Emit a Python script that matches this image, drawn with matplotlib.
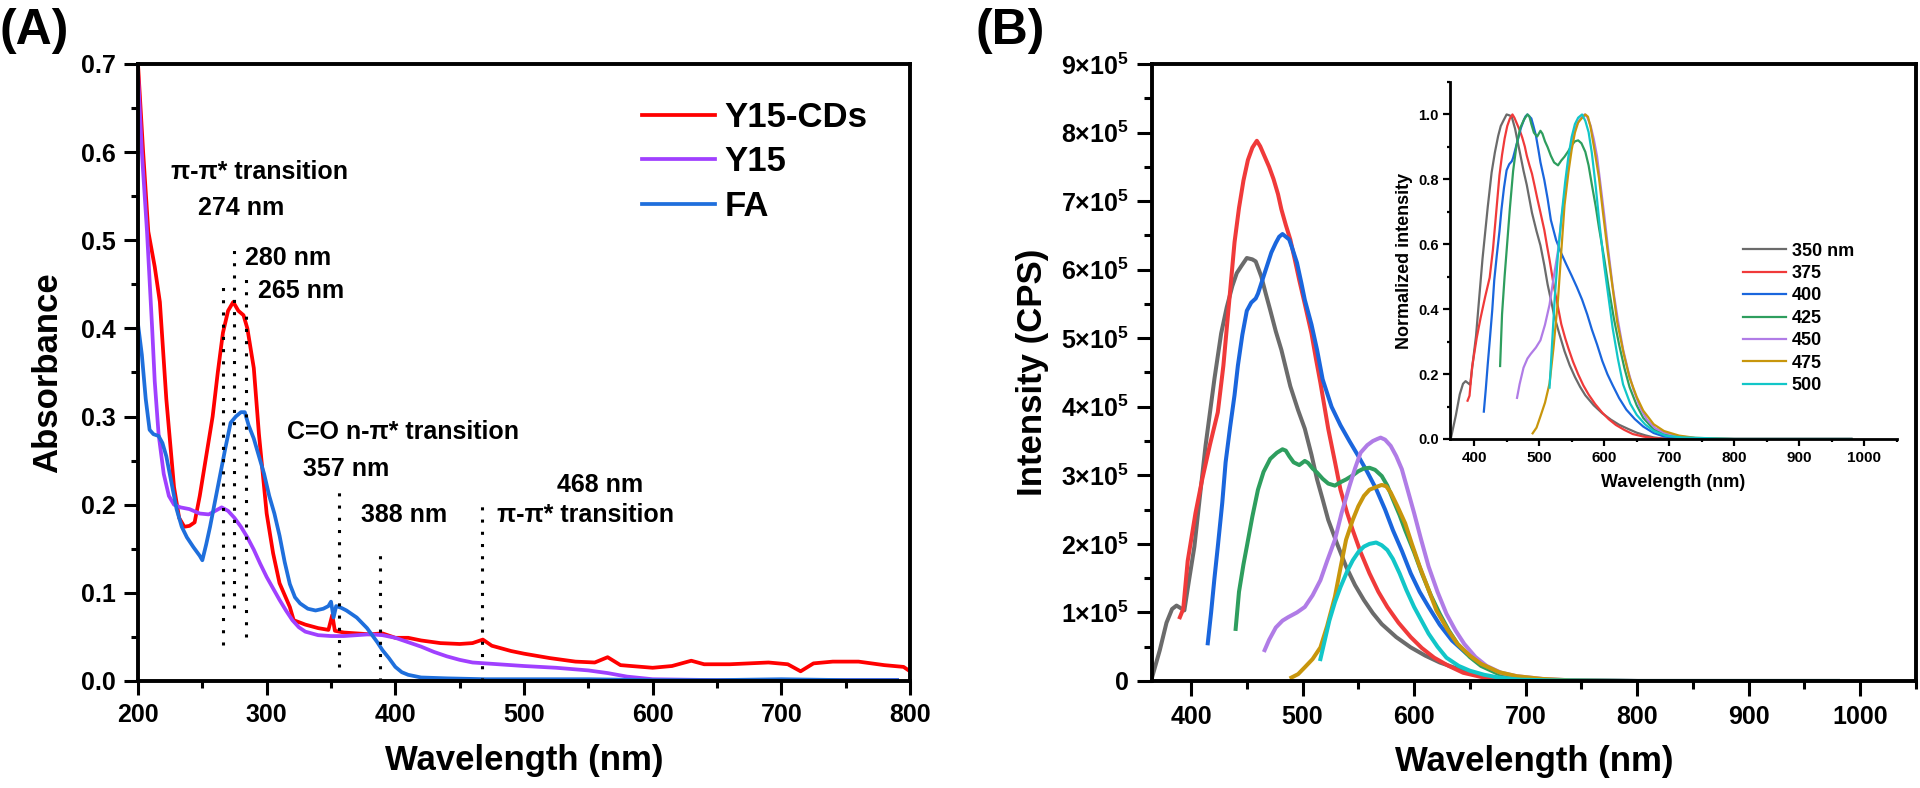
import matplotlib
matplotlib.use("Agg")
import matplotlib.pyplot as plt
import numpy as np
from matplotlib.ticker import MultipleLocator, FuncFormatter

plt.rcParams['font.family'] = ['Liberation Sans', 'DejaVu Sans']
plt.rcParams['font.weight'] = 'bold'
plt.rcParams['axes.labelweight'] = 'bold'
plt.rcParams['mathtext.fontset'] = 'custom'
plt.rcParams['mathtext.rm'] = 'Liberation Sans:bold'
plt.rcParams['mathtext.bf'] = 'Liberation Sans:bold'
plt.rcParams['mathtext.it'] = 'Liberation Sans:bold'

# ---- panel A: UV-vis absorbance ----
cds_wl = [200, 204, 208, 213, 217, 222, 228, 232, 236, 240, 244, 248, 253, 258, 262, 266, 270, 274, 278, 282,
          285, 290, 294, 300, 305, 310, 318, 321, 330, 340, 348, 351, 353, 360, 370, 380, 390, 400, 410, 420,
          435, 450, 460, 468, 475, 490, 500, 520, 540, 555, 565, 575, 600, 615, 630, 640, 660, 690, 705, 715,
          725, 740, 760, 780, 795, 800]
cds_abs = [0.70, 0.60, 0.51, 0.47, 0.43, 0.32, 0.22, 0.185, 0.175, 0.176, 0.18, 0.21, 0.255, 0.30, 0.35, 0.395, 0.42, 0.43, 0.42, 0.415,
           0.40, 0.355, 0.28, 0.19, 0.145, 0.111, 0.084, 0.069, 0.064, 0.060, 0.058, 0.075, 0.057, 0.055, 0.054, 0.053, 0.054, 0.049, 0.049, 0.046,
           0.043, 0.042, 0.043, 0.047, 0.040, 0.034, 0.031, 0.026, 0.022, 0.021, 0.027, 0.018, 0.015, 0.017, 0.023, 0.019, 0.019, 0.021, 0.019, 0.011,
           0.020, 0.022, 0.022, 0.018, 0.016, 0.011]

y15_wl = [200, 203, 207, 211, 213, 216, 220, 224, 228, 233, 240, 248, 255, 260, 265, 270, 275, 280, 285, 290,
          295, 300, 305, 310, 315, 320, 325, 330, 340, 350, 360, 370, 380, 390, 400, 410, 420, 430, 440, 450,
          460, 480, 500, 525, 550, 565, 580, 600, 650, 700, 790]
y15_abs = [0.69, 0.60, 0.51, 0.40, 0.34, 0.28, 0.235, 0.21, 0.20, 0.197, 0.195, 0.19, 0.189, 0.193, 0.197, 0.193, 0.185, 0.175, 0.163, 0.149,
           0.133, 0.118, 0.105, 0.092, 0.08, 0.069, 0.061, 0.056, 0.052, 0.051, 0.051, 0.052, 0.053, 0.052, 0.049, 0.044, 0.039, 0.033, 0.028, 0.024,
           0.021, 0.019, 0.017, 0.015, 0.012, 0.009, 0.005, 0.002, 0.001, 0.001, 0.001]

fa_wl = [200, 203, 206, 209, 212, 216, 219, 222, 226, 230, 234, 238, 243, 248, 250, 253, 256, 260, 264, 268,
         272, 276, 280, 283, 286, 290, 294, 298, 302, 306, 310, 314, 318, 322, 326, 332, 338, 344, 348, 350,
         352, 354, 358, 362, 366, 370, 374, 378, 382, 386, 390, 395, 400, 405, 410, 420, 440, 470, 500, 550,
         600, 650, 700, 750, 790]
fa_abs = [0.405, 0.37, 0.32, 0.285, 0.28, 0.278, 0.27, 0.255, 0.225, 0.195, 0.175, 0.163, 0.152, 0.142, 0.137, 0.155, 0.175, 0.205, 0.235, 0.265,
          0.293, 0.30, 0.305, 0.305, 0.29, 0.275, 0.255, 0.235, 0.21, 0.19, 0.165, 0.135, 0.11, 0.095, 0.088, 0.082, 0.08, 0.082, 0.085, 0.09,
          0.072, 0.085, 0.083, 0.08, 0.076, 0.072, 0.066, 0.06, 0.052, 0.044, 0.035, 0.026, 0.016, 0.01, 0.007, 0.004, 0.003, 0.002, 0.002, 0.002,
          0.001, 0.001, 0.002, 0.001, 0.001]

# dotted markers: (wavelength, bottom, top)
marks = [(266, 0.041, 0.45), (275, 0.083, 0.49), (284, 0.05, 0.458),
         (356, 0.016, 0.214), (388, 0.0, 0.152), (467, 0.0, 0.198)]
notes = [("π-π* transition", 226, 0.577), ("274 nm", 247, 0.537), ("280 nm", 283, 0.48),
         ("265 nm", 293, 0.442), ("C=O n-π* transition", 316, 0.282), ("357 nm", 328, 0.24),
         ("388 nm", 373, 0.188), ("468 nm", 526, 0.222), ("π-π* transition", 479, 0.188)]

# ---- panel B: PL spectra (intensity in 1e5 CPS) ----
ex_labels = ["350 nm", "375", "400", "425", "450", "475", "500"]
ex_colors = ["#6b6b6b", "#f03a3a", "#1a66dd", "#2e9e5e", "#b07ce6", "#c8960c", "#12c6c8"]

pl_wl = [
    [365, 372, 378, 383, 387, 390, 394, 398, 403, 408, 413, 421, 427, 432, 437, 441, 445, 450, 455, 458,
     463, 467, 471, 476, 481, 489, 496, 502, 508, 513, 518, 523, 531, 539, 547, 555, 563, 571, 584, 597,
     610, 623, 637, 650, 663, 676, 690, 720, 800, 900, 980],
    [390, 393, 397, 404, 410, 417, 424, 429, 434, 439, 443, 447, 451, 455, 459, 462, 466, 470, 474, 478,
     481, 485, 489, 493, 497, 502, 508, 512, 516, 523, 529, 534, 540, 545, 552, 560, 568, 576, 586, 597,
     607, 618, 631, 644, 660, 676, 700, 800, 900, 980],
    [415, 418, 421, 424, 428, 431, 435, 439, 442, 446, 450, 454, 458, 460, 463, 468, 472, 476, 479, 482,
     485, 488, 491, 495, 499, 502, 508, 513, 518, 526, 534, 542, 550, 558, 566, 574, 581, 589, 597, 605,
     613, 623, 634, 647, 660, 676, 692, 720, 800, 900, 980],
    [440, 443, 447, 450, 455, 460, 465, 471, 477, 482, 485, 488, 492, 497, 502, 505, 509, 513, 518, 523,
     529, 534, 539, 545, 550, 555, 560, 565, 571, 576, 581, 587, 592, 600, 607, 615, 623, 631, 639, 650,
     660, 676, 692, 730, 800, 900, 980],
    [466, 470, 476, 482, 487, 495, 502, 509, 516, 522, 529, 535, 542, 547, 552, 558, 563, 567, 570, 574,
     579, 584, 589, 594, 600, 606, 613, 621, 629, 637, 645, 655, 665, 678, 692, 715, 740, 800, 900, 980],
    [490, 496, 502, 509, 516, 522, 529, 534, 539, 545, 550, 555, 560, 566, 571, 575, 579, 585, 592, 598,
     605, 613, 620, 630, 639, 650, 660, 676, 692, 715, 740, 800, 900, 980],
    [516, 520, 524, 529, 534, 540, 545, 550, 555, 560, 566, 571, 576, 581, 587, 593, 600, 607, 613, 621,
     629, 640, 650, 663, 676, 695, 720, 800, 900, 980],
]
pl_int = [
    [0.05, 0.45, 0.85, 1.05, 1.1, 1.07, 1.03, 1.45, 1.96, 2.7, 3.43, 4.41, 5.07, 5.45, 5.76, 5.95, 6.05, 6.17, 6.15, 6.12,
     5.9, 5.65, 5.41, 5.1, 4.83, 4.3, 3.95, 3.68, 3.3, 2.94, 2.65, 2.35, 2.0, 1.67, 1.4, 1.18, 0.99, 0.83, 0.64, 0.49,
     0.37, 0.27, 0.19, 0.12, 0.07, 0.03, 0.01, 0.0, 0.0, 0.0, 0.0],
    [0.93, 1.05, 1.75, 2.45, 2.94, 3.45, 3.92, 4.6, 5.5, 6.4, 6.9, 7.3, 7.6, 7.78, 7.88, 7.8, 7.65, 7.5, 7.32, 7.1,
     6.88, 6.65, 6.44, 6.15, 5.85, 5.5, 5.07, 4.7, 4.35, 3.68, 3.2, 2.79, 2.45, 2.2, 1.88, 1.57, 1.3, 1.08, 0.85, 0.64,
     0.48, 0.34, 0.22, 0.12, 0.06, 0.02, 0.0, 0.0, 0.0, 0.0],
    [0.55, 1.0, 1.5, 1.96, 2.6, 3.19, 3.7, 4.17, 4.6, 5.05, 5.4, 5.52, 5.58, 5.65, 5.8, 6.05, 6.25, 6.39, 6.48, 6.52,
     6.48, 6.44, 6.3, 6.1, 5.8, 5.56, 5.2, 4.83, 4.4, 4.0, 3.73, 3.5, 3.28, 3.05, 2.8, 2.5, 2.2, 1.9, 1.57, 1.3,
     1.08, 0.82, 0.59, 0.4, 0.25, 0.12, 0.05, 0.01, 0.0, 0.0, 0.0],
    [0.76, 1.3, 1.7, 1.96, 2.4, 2.79, 3.05, 3.24, 3.33, 3.38, 3.36, 3.28, 3.19, 3.15, 3.21, 3.18, 3.1, 3.04, 2.95, 2.88,
     2.85, 2.9, 2.94, 3.0, 3.06, 3.1, 3.11, 3.08, 2.99, 2.85, 2.65, 2.42, 2.2, 1.88, 1.57, 1.25, 0.98, 0.74, 0.54, 0.35,
     0.22, 0.1, 0.05, 0.0, 0.0, 0.0, 0.0],
    [0.45, 0.6, 0.78, 0.88, 0.93, 1.0, 1.08, 1.25, 1.47, 1.75, 2.06, 2.45, 2.84, 3.1, 3.33, 3.44, 3.5, 3.53, 3.55, 3.52,
     3.43, 3.28, 3.09, 2.8, 2.45, 2.08, 1.67, 1.3, 0.98, 0.74, 0.54, 0.35, 0.22, 0.12, 0.07, 0.03, 0.01, 0.0, 0.0, 0.0],
    [0.05, 0.1, 0.2, 0.32, 0.49, 0.8, 1.23, 1.65, 2.06, 2.35, 2.55, 2.7, 2.79, 2.83, 2.86, 2.84, 2.75, 2.55, 2.3, 2.0,
     1.67, 1.33, 1.03, 0.75, 0.54, 0.37, 0.25, 0.13, 0.07, 0.03, 0.01, 0.0, 0.0, 0.0],
    [0.32, 0.6, 0.88, 1.15, 1.37, 1.6, 1.76, 1.88, 1.96, 2.0, 2.02, 1.98, 1.91, 1.78, 1.57, 1.33, 1.08, 0.87, 0.69, 0.5,
     0.34, 0.22, 0.15, 0.09, 0.05, 0.02, 0.01, 0.0, 0.0, 0.0],
]


def style_axes(ax, lw, tick_len, tick_w, size):
    for s in ax.spines.values():
        s.set_linewidth(lw)
    ax.tick_params(which='major', direction='out', length=tick_len, width=tick_w, labelsize=size, pad=6)
    ax.tick_params(which='minor', direction='out', length=tick_len / 2, width=tick_w)
    ax.tick_params(top=False, right=False, which='both')


fig = plt.figure(figsize=(19.2, 7.88), dpi=100)

# ---------------- (A) ----------------
axA = fig.add_axes([138 / 1920, 1 - 681 / 788, 772 / 1920, 617 / 788])
axA.plot(cds_wl, cds_abs, color='#ff0000', lw=2.7, label='Y15-CDs')
axA.plot(y15_wl, y15_abs, color='#a040ff', lw=2.7, label='Y15')
axA.plot(fa_wl, fa_abs, color='#1f6fdc', lw=2.7, label='FA')
for x, lo, hi in marks:
    axA.plot([x, x], [lo, hi], color='black', lw=2.2, linestyle=(0, (1, 3)))
for txt, x, y in notes:
    axA.text(x, y, txt, fontsize=18, fontweight='bold', va='center', ha='left')
axA.set_xlim(200, 800)
axA.set_ylim(0, 0.7)
axA.xaxis.set_major_locator(MultipleLocator(100))
axA.xaxis.set_minor_locator(MultipleLocator(50))
axA.yaxis.set_major_locator(MultipleLocator(0.1))
axA.yaxis.set_minor_locator(MultipleLocator(0.05))
axA.yaxis.set_major_formatter(FuncFormatter(lambda v, p: f"{v:.1f}"))
style_axes(axA, 2.8, 10, 2.2, 18)
axA.set_xlabel('Wavelength (nm)', fontsize=25, labelpad=12)
axA.set_ylabel('Absorbance', fontsize=25, labelpad=12)
axA.legend(loc='upper left', bbox_to_anchor=(0.653, 0.94), frameon=False, fontsize=25,
           handlelength=2.1, handletextpad=0.28, labelspacing=0.33, borderpad=0, borderaxespad=0)
fig.text(0.0, 0.99, '(A)', fontsize=36, fontweight='bold', va='top', ha='left')

# ---------------- (B) ----------------
axB = fig.add_axes([1152 / 1920, 1 - 681 / 788, 764 / 1920, 617 / 788])
for wl, inten, c, lab in zip(pl_wl, pl_int, ex_colors, ex_labels):
    axB.plot(wl, inten, color=c, lw=2.9, label=lab)
axB.set_xlim(365, 1050)
axB.set_ylim(0, 9)
axB.xaxis.set_major_locator(MultipleLocator(100))
axB.xaxis.set_minor_locator(MultipleLocator(50))
axB.yaxis.set_major_locator(MultipleLocator(1))
axB.yaxis.set_minor_locator(MultipleLocator(0.5))
axB.yaxis.set_major_formatter(FuncFormatter(
    lambda v, p: '0' if abs(v) < 1e-9 else r'$%d{\times}10^{5}$' % round(v)))
style_axes(axB, 2.8, 11, 2.2, 18)
axB.set_xlabel('Wavelength (nm)', fontsize=25, labelpad=12)
axB.set_ylabel('Intensity (CPS)', fontsize=25, labelpad=8)
fig.text(975 / 1920, 0.99, '(B)', fontsize=36, fontweight='bold', va='top', ha='left')

# inset: normalized spectra
axI = fig.add_axes([1450 / 1920, 1 - 439 / 788, 447 / 1920, 357 / 788])
for wl, inten, c, lab in zip(pl_wl, pl_int, ex_colors, ex_labels):
    arr = np.array(inten)
    axI.plot(wl, arr / arr.max(), color=c, lw=1.6, label=lab)
axI.set_xlim(363, 1050)
axI.set_ylim(0, 1.1)
axI.xaxis.set_major_locator(MultipleLocator(100))
axI.xaxis.set_minor_locator(MultipleLocator(50))
axI.yaxis.set_major_locator(MultipleLocator(0.2))
axI.yaxis.set_minor_locator(MultipleLocator(0.1))
axI.yaxis.set_major_formatter(FuncFormatter(lambda v, p: f"{v:.1f}"))
axI.spines['top'].set_visible(False)
axI.spines['right'].set_visible(False)
style_axes(axI, 2.0, 5, 1.6, 10.5)
axI.tick_params(axis='x', labelsize=11, pad=4)
axI.tick_params(axis='y', pad=3)
axI.set_xlabel('Wavelength (nm)', fontsize=13, labelpad=6)
axI.set_ylabel('Normalized intensity', fontsize=13, labelpad=4)
axI.legend(loc='upper left', bbox_to_anchor=(0.655, 0.55), frameon=False, fontsize=13,
           handlelength=2.4, handletextpad=0.3, labelspacing=0.3, borderpad=0, borderaxespad=0)

fig.savefig('out.png', dpi=100)
